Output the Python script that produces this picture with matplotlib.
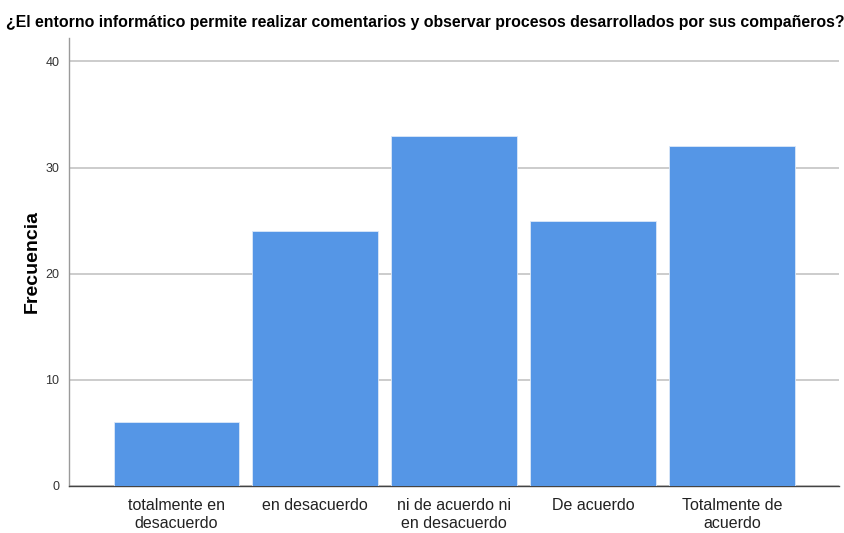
import matplotlib.pyplot as plt

categories = ['totalmente en\ndesacuerdo', 'en desacuerdo', 'ni de acuerdo ni\nen desacuerdo',
              'De acuerdo', 'Totalmente de\nacuerdo']
frecuencia = [6, 24, 33, 25, 32]
yticks = [0, 10, 20, 30, 40]

plt.rcParams['font.family'] = ['Liberation Sans', 'DejaVu Sans']

fig = plt.figure(figsize=(8.45, 5.33), dpi=100)
ax = fig.add_axes([0.0817, 0.0882, 0.9112, 0.8405])

ax.bar(range(len(categories)), frecuencia, width=0.9, color='#5596e6',
       edgecolor='#dce8f8', linewidth=0.6, zorder=3)

ax.set_xlim(-0.77, len(categories) - 1 + 0.77)
ax.set_ylim(0, 42.2)
ax.set_yticks(yticks)
ax.set_xticks(range(len(categories)))
ax.set_xticklabels(categories, fontsize=11.5, color='#222222', linespacing=1.2)
ax.tick_params(axis='y', length=0, labelsize=9, labelcolor='#333333', pad=7)
ax.tick_params(axis='x', length=0, pad=9)
ax.yaxis.grid(True, color='#c8c8c8', linewidth=1.3, zorder=0)

for s in ('top', 'right'):
    ax.spines[s].set_visible(False)
ax.spines['left'].set_color('#9a9a9a')
ax.spines['bottom'].set_color('#444444')
ax.spines['left'].set_linewidth(1.0)
ax.spines['bottom'].set_linewidth(1.0)

ax.set_ylabel('Frecuencia', fontsize=14, fontweight='bold', labelpad=3)
fig.text(0.503, 0.957, '¿El entorno informático permite realizar comentarios y observar procesos desarrollados por sus compañeros?',
         ha='center', va='center', fontsize=11.4, fontweight='bold')

fig.savefig('out.png', dpi=100)
